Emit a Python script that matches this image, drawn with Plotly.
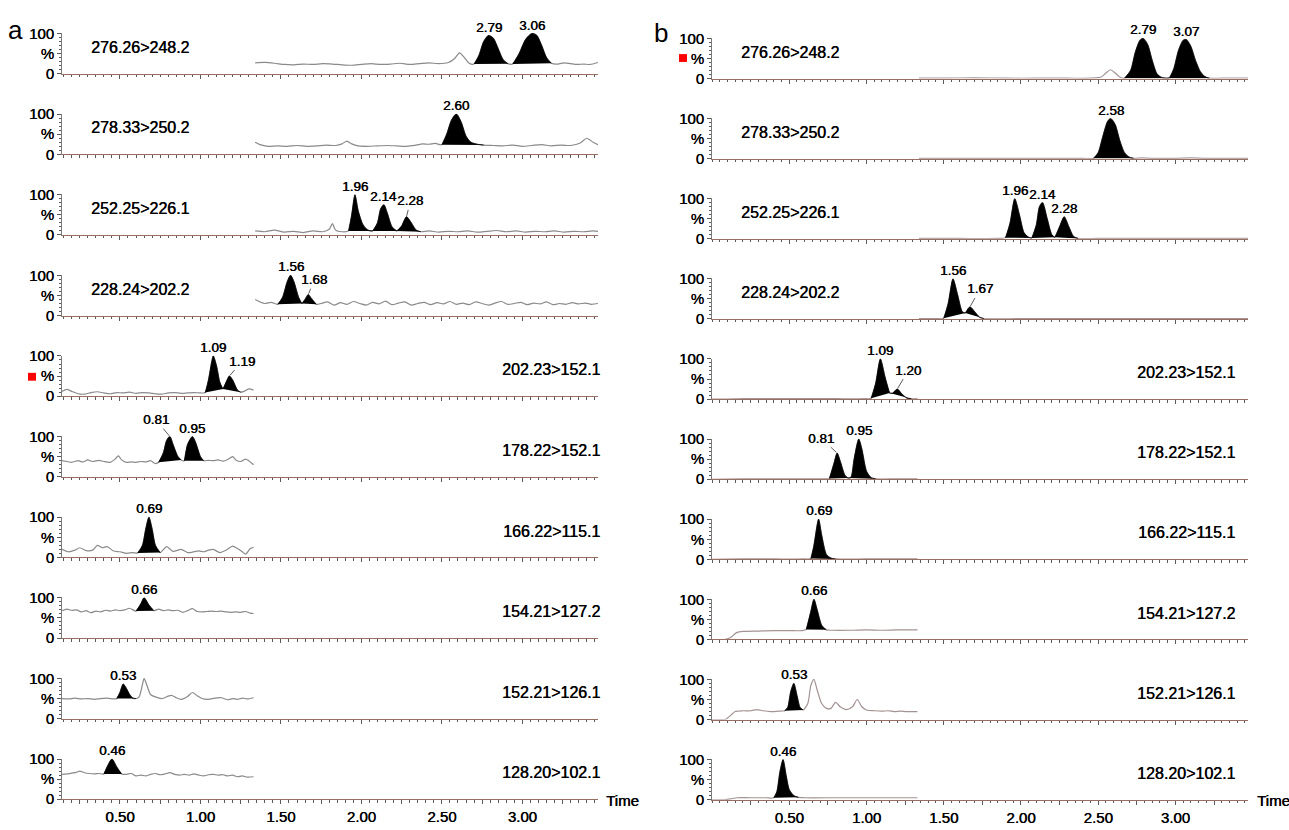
import plotly.graph_objects as go

# ---------------------------------------------------------------- data
TRANSITIONS = ["276.26>248.2", "278.33>250.2", "252.25>226.1", "228.24>202.2",
               "202.23>152.1", "178.22>152.1", "166.22>115.1", "154.21>127.2",
               "152.21>126.1", "128.20>102.1"]

TIME_TICK_VALUES = [0.5, 1.0, 1.5, 2.0, 2.5, 3.0]
TIME_TICK_LABELS = ["0.50", "1.00", "1.50", "2.00", "2.50", "3.00"]
Y_TICK_VALUES = [0, 50, 100]
Y_TICK_LABELS = ["0", "%", "100"]

# ----- panel a
A1_T = [1.34, 1.40, 1.46, 1.52, 1.58, 1.64, 1.70, 1.76, 1.82, 1.88, 1.94, 2.00, 2.06, 2.12, 2.18, 2.24, 2.30, 2.36, 2.42, 2.48,
        2.54, 2.58, 2.61, 2.64, 2.67, 2.70, 2.73, 2.76, 2.79, 2.82, 2.85, 2.88, 2.91, 2.94, 2.98, 3.02, 3.06, 3.09, 3.12, 3.15,
        3.18, 3.22, 3.26, 3.30, 3.34, 3.38, 3.42, 3.47]
A1_I = [27, 28, 26, 23, 22, 24, 23, 25, 24, 22, 21, 23, 25, 23, 24, 26, 23, 25, 27, 25,
        28, 38, 52, 40, 26, 24, 45, 80, 95, 88, 62, 35, 25, 24, 50, 85, 100, 95, 70, 40,
        26, 24, 27, 25, 23, 24, 23, 28]
A1_RT = ["2.79", "3.06"]
A1_WIN = [(2.70, 2.91), (2.94, 3.18)]

A2_T = [1.34, 1.37, 1.42, 1.48, 1.54, 1.60, 1.66, 1.72, 1.78, 1.84, 1.88, 1.91, 1.94, 1.98, 2.04, 2.10, 2.16, 2.22, 2.28, 2.34,
        2.38, 2.42, 2.46, 2.50, 2.53, 2.56, 2.59, 2.62, 2.65, 2.68, 2.72, 2.76, 2.82, 2.88, 2.94, 3.00, 3.06, 3.12, 3.18, 3.24,
        3.30, 3.36, 3.40, 3.44, 3.47]
A2_I = [30, 24, 20, 21, 20, 22, 20, 21, 23, 22, 26, 33, 26, 21, 20, 21, 22, 21, 20, 23,
        26, 25, 27, 24, 50, 85, 100, 80, 45, 30, 25, 23, 22, 21, 23, 20, 22, 24, 21, 23,
        22, 28, 40, 30, 24]
A2_RT = ["2.60"]
A2_WIN = [(2.50, 2.76)]

A3_T = [1.34, 1.40, 1.46, 1.52, 1.58, 1.64, 1.70, 1.76, 1.80, 1.82, 1.84, 1.88, 1.92, 1.94, 1.96, 1.98, 2.01, 2.04, 2.07, 2.10,
        2.12, 2.14, 2.16, 2.19, 2.22, 2.25, 2.28, 2.31, 2.34, 2.37, 2.42, 2.48, 2.54, 2.60, 2.66, 2.72, 2.78, 2.84, 2.90, 2.96,
        3.02, 3.08, 3.14, 3.20, 3.26, 3.32, 3.38, 3.44, 3.47]
A3_I = [10, 8, 12, 7, 9, 6, 10, 8, 14, 28, 12, 8, 10, 50, 100, 60, 25, 12, 10, 30,
        65, 75, 55, 20, 10, 22, 45, 30, 12, 8, 10, 7, 9, 8, 10, 7, 9, 11, 8, 10,
        7, 9, 8, 10, 7, 9, 8, 10, 9]
A3_RT = ["1.96", "2.14", "2.28"]
A3_WIN = [(1.92, 2.07), (2.07, 2.22), (2.22, 2.37)]

A4_T = [1.34, 1.37, 1.40, 1.44, 1.48, 1.51, 1.54, 1.56, 1.58, 1.61, 1.63, 1.65, 1.67, 1.69, 1.72, 1.75, 1.79, 1.83, 1.87, 1.91,
        1.95, 1.99, 2.03, 2.07, 2.11, 2.15, 2.19, 2.23, 2.27, 2.31, 2.35, 2.39, 2.43, 2.47, 2.51, 2.55, 2.59, 2.63, 2.67, 2.71,
        2.75, 2.79, 2.83, 2.87, 2.91, 2.95, 2.99, 3.03, 3.07, 3.11, 3.15, 3.19, 3.23, 3.27, 3.31, 3.35, 3.39, 3.43, 3.47]
A4_I = [40, 34, 30, 33, 28, 45, 85, 100, 85, 45, 30, 40, 52, 42, 28, 30, 34, 26, 32, 28,
        35, 30, 26, 33, 29, 36, 27, 31, 34, 26, 30, 33, 27, 32, 29, 35, 28, 31, 27, 34,
        30, 26, 31, 35, 28, 30, 33, 27, 31, 29, 34, 27, 30, 28, 32, 29, 31, 28, 30]
A4_RT = ["1.56", "1.68"]
A4_WIN = [(1.48, 1.63), (1.63, 1.72)]

A5_T = [0.14, 0.17, 0.20, 0.24, 0.28, 0.32, 0.36, 0.40, 0.44, 0.48, 0.52, 0.56, 0.60, 0.64, 0.68, 0.72, 0.76, 0.80, 0.84, 0.88,
        0.92, 0.96, 1.00, 1.03, 1.05, 1.07, 1.08, 1.10, 1.12, 1.14, 1.16, 1.18, 1.20, 1.23, 1.25, 1.27, 1.30, 1.33]
A5_I = [12, 17, 12, 6, 5, 9, 11, 8, 6, 9, 8, 10, 7, 9, 8, 6, 5, 8, 9, 7,
        8, 9, 8, 9, 40, 85, 100, 75, 35, 18, 35, 50, 40, 15, 10, 12, 18, 15]
A5_RT = ["1.09", "1.19"]
A5_WIN = [(1.03, 1.14), (1.14, 1.25)]

A6_T = [0.14, 0.17, 0.20, 0.24, 0.27, 0.30, 0.33, 0.37, 0.40, 0.44, 0.47, 0.49, 0.51, 0.54, 0.57, 0.60, 0.63, 0.66, 0.69, 0.72,
        0.74, 0.77, 0.79, 0.81, 0.83, 0.86, 0.88, 0.90, 0.92, 0.95, 0.97, 1.00, 1.02, 1.05, 1.08, 1.11, 1.14, 1.17, 1.20, 1.22,
        1.25, 1.28, 1.30, 1.33]
A6_I = [40, 38, 36, 40, 37, 42, 38, 41, 38, 36, 44, 52, 42, 36, 37, 36, 38, 37, 40, 33,
        36, 60, 90, 100, 80, 50, 42, 40, 80, 100, 85, 50, 40, 41, 40, 42, 39, 43, 50, 42,
        38, 44, 40, 30]
A6_RT = ["0.81", "0.95"]
A6_WIN = [(0.74, 0.88), (0.90, 1.02)]

A7_T = [0.14, 0.18, 0.22, 0.25, 0.29, 0.33, 0.36, 0.39, 0.42, 0.46, 0.50, 0.54, 0.58, 0.61, 0.64, 0.66, 0.68, 0.70, 0.72, 0.75,
        0.79, 0.83, 0.88, 0.92, 0.95, 0.99, 1.02, 1.05, 1.08, 1.12, 1.16, 1.20, 1.23, 1.26, 1.28, 1.31, 1.33]
A7_I = [20, 14, 18, 24, 17, 18, 30, 24, 27, 16, 14, 10, 12, 11, 30, 70, 100, 70, 30, 12,
        27, 15, 20, 12, 13, 16, 14, 18, 20, 12, 18, 28, 22, 14, 8, 22, 25]
A7_RT = ["0.69"]
A7_WIN = [(0.61, 0.75)]

A8_T = [0.14, 0.17, 0.20, 0.23, 0.26, 0.29, 0.32, 0.35, 0.38, 0.41, 0.44, 0.47, 0.50, 0.53, 0.56, 0.60, 0.63, 0.65, 0.68, 0.71,
        0.74, 0.77, 0.80, 0.83, 0.86, 0.89, 0.92, 0.95, 0.98, 1.01, 1.04, 1.07, 1.10, 1.13, 1.16, 1.19, 1.22, 1.25, 1.28, 1.31,
        1.33]
A8_I = [68, 72, 69, 70, 65, 68, 63, 67, 65, 69, 67, 70, 68, 70, 74, 67, 85, 100, 82, 68,
        72, 68, 70, 68, 69, 64, 68, 73, 66, 65, 66, 67, 66, 67, 65, 64, 65, 64, 66, 62,
        61]
A8_RT = ["0.66"]
A8_WIN = [(0.60, 0.71)]

A9_T = [0.14, 0.18, 0.22, 0.26, 0.30, 0.34, 0.38, 0.42, 0.46, 0.48, 0.50, 0.52, 0.54, 0.56, 0.58, 0.60, 0.62, 0.64, 0.65, 0.67,
        0.69, 0.72, 0.76, 0.80, 0.82, 0.85, 0.88, 0.92, 0.95, 0.98, 1.01, 1.05, 1.09, 1.13, 1.17, 1.20, 1.23, 1.26, 1.29, 1.33]
A9_I = [50, 49, 51, 49, 50, 48, 50, 51, 49, 50, 65, 86, 75, 60, 51, 50, 55, 85, 100, 80,
        60, 54, 50, 56, 58, 52, 48, 55, 65, 57, 50, 48, 51, 52, 47, 50, 48, 51, 49, 52]
A9_RT = ["0.53"]
A9_WIN = [(0.48, 0.60)]

A10_T = [0.14, 0.17, 0.20, 0.23, 0.25, 0.28, 0.31, 0.34, 0.37, 0.40, 0.42, 0.45, 0.48, 0.51, 0.54, 0.57, 0.60, 0.63, 0.66, 0.69,
         0.72, 0.75, 0.78, 0.81, 0.84, 0.87, 0.90, 0.93, 0.96, 0.99, 1.02, 1.05, 1.08, 1.11, 1.14, 1.17, 1.20, 1.23, 1.26, 1.29,
         1.33]
A10_I = [62, 63, 65, 67, 70, 66, 64, 63, 64, 63, 80, 100, 80, 63, 62, 64, 58, 60, 58, 62,
         64, 61, 63, 66, 62, 60, 62, 60, 63, 60, 58, 61, 62, 60, 61, 58, 60, 56, 58, 55,
         56]
A10_RT = ["0.46"]
A10_WIN = [(0.40, 0.51)]

# ----- panel b
B1_T = [1.34, 1.50, 1.70, 1.90, 2.10, 2.30, 2.45, 2.52, 2.55, 2.58, 2.61, 2.64, 2.67, 2.71, 2.74, 2.77, 2.79, 2.82, 2.85, 2.88,
        2.91, 2.94, 2.96, 2.99, 3.02, 3.05, 3.07, 3.10, 3.13, 3.16, 3.19, 3.22, 3.30, 3.40, 3.47]
B1_I = [1, 1, 2, 1, 1, 1, 1, 4, 14, 22, 14, 4, 1, 20, 65, 95, 100, 85, 45, 12,
        3, 1, 2, 25, 70, 95, 97, 80, 45, 18, 5, 1, 1, 1, 1]
B1_RT = ["2.79", "3.07"]
B1_WIN = [(2.67, 2.94), (2.94, 3.22)]

B2_T = [1.34, 1.60, 1.90, 2.20, 2.40, 2.47, 2.50, 2.53, 2.56, 2.58, 2.61, 2.64, 2.67, 2.70, 2.73, 2.78, 2.85, 3.00, 3.10, 3.20,
        3.47]
B2_I = [1, 1, 1, 1, 1, 1, 15, 55, 92, 100, 85, 45, 15, 4, 1, 2, 1, 1, 2, 1,
        1]
B2_RT = ["2.58"]
B2_WIN = [(2.47, 2.73)]

B3_T = [1.34, 1.60, 1.85, 1.90, 1.93, 1.96, 1.99, 2.02, 2.05, 2.07, 2.10, 2.12, 2.14, 2.17, 2.20, 2.22, 2.25, 2.28, 2.31, 2.34,
        2.37, 2.50, 2.80, 3.10, 3.47]
B3_I = [1, 1, 1, 3, 40, 100, 60, 15, 4, 2, 35, 80, 90, 50, 10, 4, 30, 55, 30, 6,
        1, 1, 1, 1, 1]
B3_RT = ["1.96", "2.14", "2.28"]
B3_WIN = [(1.90, 2.07), (2.07, 2.22), (2.22, 2.37)]

B4_T = [1.34, 1.45, 1.50, 1.53, 1.56, 1.59, 1.62, 1.64, 1.67, 1.70, 1.73, 1.76, 2.00, 2.40, 2.80, 3.20, 3.47]
B4_I = [1, 1, 2, 40, 100, 60, 18, 15, 30, 18, 5, 1, 1, 1, 1, 1, 1]
B4_RT = ["1.56", "1.67"]
B4_WIN = [(1.50, 1.64), (1.64, 1.76)]

B5_T = [0.00, 0.10, 0.20, 0.40, 0.60, 0.80, 1.00, 1.03, 1.06, 1.09, 1.12, 1.15, 1.17, 1.20, 1.23, 1.26, 1.29, 1.33]
B5_I = [0, 0, 1, 1, 1, 1, 1, 2, 40, 100, 55, 15, 15, 25, 12, 3, 1, 1]
B5_RT = ["1.09", "1.20"]
B5_WIN = [(1.03, 1.15), (1.15, 1.29)]

B6_T = [0.00, 0.20, 0.40, 0.60, 0.74, 0.76, 0.79, 0.81, 0.83, 0.86, 0.88, 0.90, 0.92, 0.95, 0.97, 1.00, 1.03, 1.06, 1.20, 1.33]
B6_I = [0, 1, 1, 1, 1, 2, 40, 65, 45, 10, 3, 5, 50, 100, 75, 20, 4, 1, 1, 1]
B6_RT = ["0.81", "0.95"]
B6_WIN = [(0.76, 0.88), (0.88, 1.06)]

B7_T = [0.00, 0.20, 0.40, 0.60, 0.64, 0.66, 0.69, 0.71, 0.74, 0.77, 0.80, 1.00, 1.33]
B7_I = [0, 1, 1, 1, 2, 35, 100, 60, 12, 3, 1, 1, 1]
B7_RT = ["0.69"]
B7_WIN = [(0.64, 0.80)]

B8_T = [0.00, 0.08, 0.12, 0.16, 0.20, 0.30, 0.40, 0.50, 0.58, 0.61, 0.64, 0.66, 0.68, 0.71, 0.74, 0.78, 0.90, 1.00, 1.10, 1.20,
        1.33]
B8_I = [0, 0, 5, 17, 20, 21, 22, 22, 22, 25, 70, 100, 75, 35, 24, 23, 23, 24, 23, 24,
        24]
B8_RT = ["0.66"]
B8_WIN = [(0.61, 0.74)]

B9_T = [0.00, 0.06, 0.09, 0.12, 0.15, 0.20, 0.25, 0.29, 0.33, 0.38, 0.43, 0.47, 0.49, 0.51, 0.53, 0.55, 0.57, 0.59, 0.62, 0.64,
        0.66, 0.68, 0.71, 0.74, 0.77, 0.80, 0.83, 0.87, 0.91, 0.94, 0.97, 1.00, 1.05, 1.10, 1.14, 1.18, 1.22, 1.26, 1.33]
B9_I = [0, 0, 1, 10, 20, 22, 22, 25, 22, 20, 21, 22, 30, 70, 90, 60, 30, 24, 40, 85,
        100, 75, 40, 28, 28, 43, 32, 25, 32, 50, 32, 24, 22, 21, 22, 20, 21, 20, 20]
B9_RT = ["0.53"]
B9_WIN = [(0.47, 0.59)]

B10_T = [0.00, 0.08, 0.12, 0.16, 0.25, 0.35, 0.40, 0.42, 0.44, 0.46, 0.48, 0.50, 0.53, 0.56, 0.60, 0.80, 1.00, 1.20, 1.33]
B10_I = [0, 0, 2, 5, 5, 5, 5, 20, 70, 100, 60, 25, 10, 6, 5, 5, 5, 5, 5]
B10_RT = ["0.46"]
B10_WIN = [(0.40, 0.56)]

A_ROWS = [(A1_T, A1_I, A1_RT, A1_WIN), (A2_T, A2_I, A2_RT, A2_WIN), (A3_T, A3_I, A3_RT, A3_WIN),
          (A4_T, A4_I, A4_RT, A4_WIN), (A5_T, A5_I, A5_RT, A5_WIN), (A6_T, A6_I, A6_RT, A6_WIN),
          (A7_T, A7_I, A7_RT, A7_WIN), (A8_T, A8_I, A8_RT, A8_WIN), (A9_T, A9_I, A9_RT, A9_WIN),
          (A10_T, A10_I, A10_RT, A10_WIN)]
B_ROWS = [(B1_T, B1_I, B1_RT, B1_WIN), (B2_T, B2_I, B2_RT, B2_WIN), (B3_T, B3_I, B3_RT, B3_WIN),
          (B4_T, B4_I, B4_RT, B4_WIN), (B5_T, B5_I, B5_RT, B5_WIN), (B6_T, B6_I, B6_RT, B6_WIN),
          (B7_T, B7_I, B7_RT, B7_WIN), (B8_T, B8_I, B8_RT, B8_WIN), (B9_T, B9_I, B9_RT, B9_WIN),
          (B10_T, B10_I, B10_RT, B10_WIN)]

# ---------------------------------------------------------------- style
W, H = 1289, 830
FONT = "Liberation Sans, Arial, sans-serif"
SHADOW = "0.45px 0 0 #000"   # slight thickening of the glyphs, like the scanned original
PLOT_H = 41.4          # pixel height of the 0..100 span of each trace
TICK_FONT = 15
LABEL_FONT = 16
PEAK_FONT = 13.5
X_LINE = "#9a6e62"
Y_LINE = "#7a7a7a"
TICK_C = "#5a5a5a"


def fnt(size):
    return dict(size=size, color="black", family=FONT, shadow=SHADOW)


# leader-line offsets (px) for some peak labels: (panel, row, peak) -> (ax, ay)
LEADERS = {("a", 2, 2): (4, -16), ("a", 3, 1): (6, -15), ("a", 4, 1): (13, -15),
           ("a", 5, 0): (-14, -17), ("b", 3, 1): (10, -18), ("b", 4, 1): (11, -19),
           ("b", 5, 0): (-16, -15)}

PANELS = [
    dict(key="a", rows=A_ROWS, x_px=(62, 598), zero_px=67.0, step_px=82.2, t_range=[0.14, 3.47],
         right_x=1.007, trace_color="#8a8a8a", letter_xy=(15, 22), time_x=604),
    dict(key="b", rows=B_ROWS, x_px=(712, 1248), zero_px=72.0, step_px=81.7, t_range=[0.0, 3.47],
         right_x=0.979, trace_color="#a39393", letter_xy=(661, 25), time_x=1255),
]

label_map = dict(zip(TIME_TICK_VALUES, TIME_TICK_LABELS))
major_vals = [round(0.25 * k, 2) for k in range(1, 14)]
major_text = [label_map.get(v, "") for v in major_vals]

fig = go.Figure()
layout_axes = {}
annotations = []
shapes = []

idx = 0
for p in PANELS:
    for r, (ts, vs, rts, wins) in enumerate(p["rows"]):
        assert len(ts) == len(vs), (p["key"], r, len(ts), len(vs))
        idx += 1
        xname = "x" if idx == 1 else f"x{idx}"
        yname = "y" if idx == 1 else f"y{idx}"
        xkey = "xaxis" if idx == 1 else f"xaxis{idx}"
        ykey = "yaxis" if idx == 1 else f"yaxis{idx}"
        zero = p["zero_px"] + r * p["step_px"]
        ydom = [1 - zero / H, 1 - (zero - PLOT_H) / H]
        xdom = [p["x_px"][0] / W, p["x_px"][1] / W]
        bottom = (r == len(p["rows"]) - 1)

        # chromatogram trace
        fig.add_trace(go.Scatter(x=ts, y=vs, mode="lines", xaxis=xname, yaxis=yname,
                                 line=dict(color=p["trace_color"], width=1.2, shape="spline", smoothing=0.7),
                                 hoverinfo="skip", showlegend=False))
        # integrated peaks
        for k, (rt, (t0, t1)) in enumerate(zip(rts, wins)):
            sel = [(t, v) for t, v in zip(ts, vs) if t0 - 1e-9 <= t <= t1 + 1e-9]
            px_ = [s[0] for s in sel]
            py_ = [s[1] for s in sel]
            fig.add_trace(go.Scatter(x=px_, y=py_, mode="lines", fill="toself", fillcolor="black",
                                     xaxis=xname, yaxis=yname,
                                     line=dict(color="black", width=0.8, shape="spline", smoothing=0.7),
                                     hoverinfo="skip", showlegend=False))
            j = max(range(len(py_)), key=lambda i: py_[i])
            lead = LEADERS.get((p["key"], r, k))
            if lead:
                annotations.append(dict(x=px_[j], y=py_[j], xref=xname, yref=yname, text=rt,
                                        showarrow=True, arrowhead=0, arrowwidth=0.8, arrowcolor="#333",
                                        ax=lead[0], ay=lead[1], standoff=1, font=fnt(PEAK_FONT)))
            else:
                annotations.append(dict(x=px_[j], y=py_[j], xref=xname, yref=yname, text=rt,
                                        showarrow=False, yanchor="bottom", yshift=-1, font=fnt(PEAK_FONT)))
        # transition label
        if r < 4:
            annotations.append(dict(x=0.05, y=0.65, xref=f"{xname} domain", yref=f"{yname} domain",
                                    text=TRANSITIONS[r], showarrow=False, xanchor="left", yanchor="middle",
                                    font=fnt(LABEL_FONT)))
        else:
            annotations.append(dict(x=p["right_x"], y=0.65, xref=f"{xname} domain", yref=f"{yname} domain",
                                    text=TRANSITIONS[r], showarrow=False, xanchor="right", yanchor="middle",
                                    font=fnt(LABEL_FONT)))

        layout_axes[xkey] = dict(
            domain=xdom, anchor=yname, range=p["t_range"], showline=True, linecolor=X_LINE, linewidth=1,
            ticks="outside", ticklen=4, tickwidth=1, tickcolor=TICK_C,
            tickmode="array", tickvals=major_vals, ticktext=major_text, showticklabels=bottom,
            tickfont=fnt(TICK_FONT),
            minor=dict(ticks="outside", tickmode="linear", tick0=0, dtick=0.05, ticklen=2.5,
                       tickwidth=1, tickcolor=TICK_C, showgrid=False),
            showgrid=False, zeroline=False, fixedrange=True)
        layout_axes[ykey] = dict(
            domain=ydom, anchor=xname, range=[0, 101], showline=True, linecolor=Y_LINE, linewidth=1,
            ticks="outside", ticklen=4, tickwidth=1, tickcolor=TICK_C,
            tickmode="array", tickvals=Y_TICK_VALUES, ticktext=Y_TICK_LABELS,
            tickfont=fnt(TICK_FONT),
            minor=dict(ticks="outside", tickmode="linear", tick0=0, dtick=10, ticklen=2,
                       tickwidth=1, tickcolor=TICK_C, showgrid=False),
            showgrid=False, zeroline=False, fixedrange=True)

    # panel letter and "Time" label
    lx, ly = p["letter_xy"]
    annotations.append(dict(x=lx / W, y=1 - ly / H, xref="paper", yref="paper", text=p["key"],
                            showarrow=False, xanchor="center", yanchor="middle",
                            font=dict(size=26, color="black", family=FONT)))
    annotations.append(dict(x=p["time_x"] / W, y=1 - 808 / H, xref="paper", yref="paper", text="Time",
                            showarrow=False, xanchor="left", yanchor="middle", font=fnt(TICK_FONT)))

# red markers beside the "%" labels
for (x0, y0) in [(28, 372), (679, 47)]:
    shapes.append(dict(type="rect", xref="paper", yref="paper", x0=x0 / W, x1=(x0 + 8) / W,
                       y0=1 - (y0 + 8) / H, y1=1 - y0 / H, fillcolor="#ff0000", line=dict(width=0)))

fig.update_layout(
    width=W, height=H, margin=dict(l=0, r=0, t=0, b=0),
    paper_bgcolor="white", plot_bgcolor="white",
    font=dict(family=FONT, color="black"),
    showlegend=False, annotations=annotations, shapes=shapes,
    **layout_axes)

fig.write_html("out.html")
